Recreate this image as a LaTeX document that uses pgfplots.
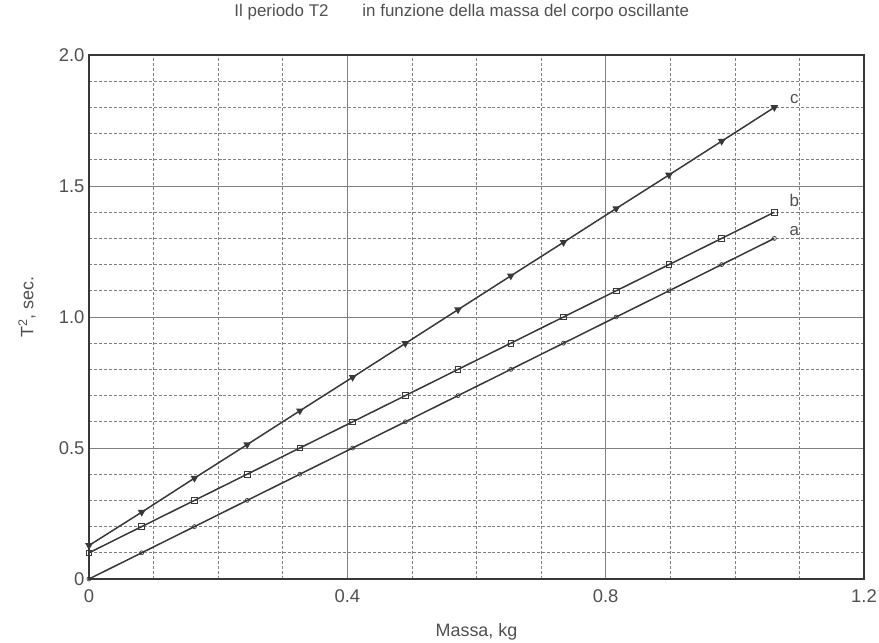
\documentclass[border=0pt]{standalone}
\usepackage{pgfplots}
\pgfplotsset{compat=1.18}
\usepackage{fontspec}
\setmainfont{Liberation Sans}
\definecolor{ink}{HTML}{383838}
\definecolor{txt}{HTML}{505050}
\definecolor{gridc}{HTML}{808080}
\begin{document}
\begin{tikzpicture}[x=1bp,y=1bp]
\path[use as bounding box] (-89,-64) rectangle (790,579);
\begin{axis}[
  scale only axis, width=775bp, height=524bp,
  xmin=0, xmax=1.2, ymin=0, ymax=2,
  xtick={0,0.4,0.8,1.2}, xticklabels={0,0.4,0.8,1.2},
  ytick={0,0.5,1,1.5,2}, yticklabels={0,0.5,1.0,1.5,2.0},
  minor xtick={0.1,0.2,0.3,0.5,0.6,0.7,0.9,1.0,1.1},
  minor ytick={0.1,0.2,0.3,0.4,0.6,0.7,0.8,0.9,1.1,1.2,1.3,1.4,1.6,1.7,1.8,1.9},
  major tick length=0, minor tick length=0,
  grid=both,
  major grid style={gridc, line width=0.6pt},
  minor grid style={gridc, line width=0.6pt, dash pattern=on 3pt off 2pt},
  axis line style={ink, line width=1.2pt},
  tick label style={font=\fontsize{18.5}{20}\selectfont, text=txt},
  /pgf/number format/assume math mode=true,
  xticklabel style={yshift=-7bp},
  yticklabel style={xshift=-1bp},
  xlabel={Massa, kg},
  ylabel={T\textsuperscript{2}, sec.},
  xlabel style={at={(axis description cs:0.5,-0.101)}, anchor=center, font=\fontsize{18}{20}\selectfont, text=txt},
  ylabel style={at={(axis description cs:-0.080,0.519)}, anchor=center, font=\fontsize{18}{20}\selectfont, text=txt},
  title={Il periodo T2\hspace{2.0em}in funzione della massa del corpo oscillante},
  title style={at={(axis description cs:0.481,1.0706)}, anchor=center, font=\fontsize{17}{19}\selectfont, text=txt},
  clip=false,
]
% series a: circles
\addplot[ink, line width=1.5pt, mark=o, mark size=2pt, mark options={line width=0.7pt}]
coordinates {(0,0) (0.0816,0.1) (0.1633,0.2) (0.2449,0.3) (0.3265,0.4) (0.4082,0.5) (0.4898,0.6) (0.5714,0.7) (0.6531,0.8) (0.7347,0.9) (0.8163,1.0) (0.898,1.1) (0.9796,1.2) (1.0612,1.3)};
% series b: squares
\addplot[ink, line width=1.5pt, mark=square, mark size=2.8pt, mark options={line width=0.9pt}]
coordinates {(0,0.1) (0.0816,0.2) (0.1633,0.3) (0.2449,0.4) (0.3265,0.5) (0.4082,0.6) (0.4898,0.7) (0.5714,0.8) (0.6531,0.9) (0.7347,1.0) (0.8163,1.1) (0.898,1.2) (0.9796,1.3) (1.0612,1.4)};
% series c: triangles
\addplot[ink, line width=1.5pt, mark=triangle*, mark size=3pt, mark options={rotate=180}]
coordinates {(0,0.128) (0.0816,0.255) (0.1633,0.385) (0.2449,0.513) (0.3265,0.642) (0.4082,0.77) (0.4898,0.899) (0.5714,1.028) (0.6531,1.157) (0.7347,1.285) (0.8163,1.414) (0.898,1.542) (0.9796,1.671) (1.0612,1.80)};
\node[font=\fontsize{17}{19}\selectfont, text=txt] at (axis cs:1.092,1.832) {c};
\node[font=\fontsize{17}{19}\selectfont, text=txt] at (axis cs:1.092,1.443) {b};
\node[font=\fontsize{17}{19}\selectfont, text=txt] at (axis cs:1.092,1.328) {a};
\end{axis}
\end{tikzpicture}
\end{document}
